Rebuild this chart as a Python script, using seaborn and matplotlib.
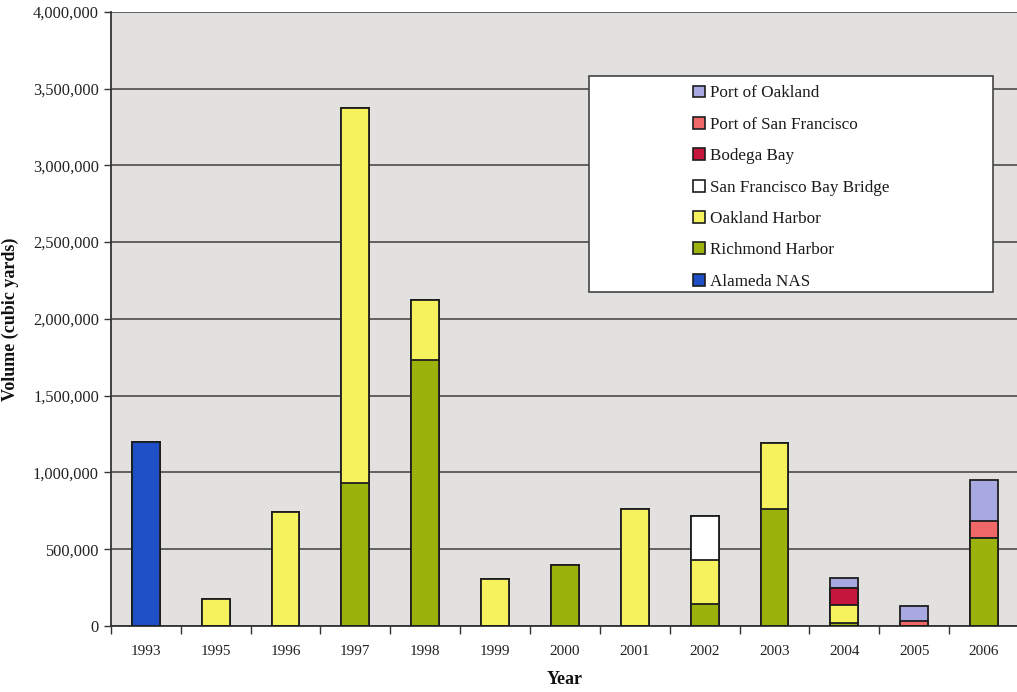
import numpy as np
import pandas as pd
import matplotlib
matplotlib.use("Agg")
import matplotlib.pyplot as plt
from matplotlib.ticker import FuncFormatter, MultipleLocator, FixedLocator
from matplotlib.patches import Patch, Rectangle
import seaborn as sns

# Dredged volume by project and year (cubic yards)
years = ["1993", "1995", "1996", "1997", "1998", "1999", "2000",
         "2001", "2002", "2003", "2004", "2005", "2006"]
alameda_nas = [1200000, 0, 0, 0, 0, 0, 0, 0, 0, 0, 0, 0, 0]
richmond_harbor = [0, 0, 0, 930000, 1730000, 0, 397000, 0, 140000, 760000, 18000, 0, 573000]
oakland_harbor = [0, 175000, 745000, 2445000, 390000, 307000, 0, 762000, 290000, 432000, 119000, 0, 0]
sf_bay_bridge = [0, 0, 0, 0, 0, 0, 0, 0, 287000, 0, 0, 0, 0]
bodega_bay = [0, 0, 0, 0, 0, 0, 0, 0, 0, 0, 111000, 0, 0]
port_of_sf = [0, 0, 0, 0, 0, 0, 0, 0, 0, 0, 0, 33000, 110000]
port_of_oakland = [0, 0, 0, 0, 0, 0, 0, 0, 0, 0, 65000, 100000, 268000]

series_names = ["Alameda NAS", "Richmond Harbor", "Oakland Harbor",
                "San Francisco Bay Bridge", "Bodega Bay",
                "Port of San Francisco", "Port of Oakland"]
series_values = [alameda_nas, richmond_harbor, oakland_harbor, sf_bay_bridge,
                 bodega_bay, port_of_sf, port_of_oakland]
colors = ["#1f4fc6", "#9bb10c", "#f6f25e", "#ffffff", "#c5163e",
          "#ef6767", "#a9a9e2"]

df = pd.DataFrame({name: vals for name, vals in zip(series_names, series_values)},
                  index=years)
cum = df.cumsum(axis=1)

sns.set_theme(style="white")
plt.rcParams["font.family"] = ["Liberation Serif", "DejaVu Serif"]

fig = plt.figure(figsize=(10.17, 6.92), dpi=100)
ax = fig.add_axes([0.109, 0.0954, 0.893, 0.8876])
ax.set_facecolor("#e2e1df")

# Draw cumulative totals from the top series down so each layer shows its own segment
for name, col in reversed(list(zip(series_names, colors))):
    seg = pd.DataFrame({"Year": years, "Total": cum[name].values})
    sns.barplot(data=seg, x="Year", y="Total", order=years, color=col,
                width=0.4, edgecolor="#1e1e1e", linewidth=1.3,
                saturation=1, ax=ax, zorder=3)

ax.set_xlim(-0.5, len(years) - 0.5)
ax.set_ylim(0, 4000000)
ax.yaxis.set_major_locator(MultipleLocator(500000))
ax.yaxis.set_major_formatter(FuncFormatter(lambda v, p: f"{int(v):,}"))
ax.grid(axis="y", color="#4a4a4a", linewidth=1.2, zorder=0)
ax.set_axisbelow(True)

# Category separators as x ticks, labels centered under bars
ax.xaxis.set_major_locator(FixedLocator(np.arange(len(years) + 1) - 0.5))
ax.xaxis.set_major_formatter(FuncFormatter(lambda v, p: ""))
ax.xaxis.set_minor_locator(FixedLocator(np.arange(len(years))))
ax.set_xticklabels(years, minor=True)
ax.tick_params(axis="x", which="major", direction="out", length=6, width=1,
               color="#333333", bottom=True)
ax.tick_params(axis="x", which="minor", length=0, pad=14, labelsize=11,
               labelcolor="#222222")
ax.tick_params(axis="y", direction="out", length=5, width=1, color="#333333",
               left=True, labelsize=11.8, labelcolor="#222222")

for side in ["left", "bottom"]:
    ax.spines[side].set_color("#333333")
    ax.spines[side].set_linewidth(1.3)
for side in ["top", "right"]:
    ax.spines[side].set_visible(False)

ax.set_xlabel("Year", fontsize=13, fontweight="bold", labelpad=9, color="#111111")
ax.set_ylabel("Volume (cubic yards)", fontsize=13, fontweight="bold",
              labelpad=10, color="#111111")

# Legend box drawn as its own panel, entries set in from the left edge
box = Rectangle((0.527, 0.544), 0.444, 0.352, transform=ax.transAxes,
                facecolor="white", edgecolor="#444444", linewidth=1.2,
                zorder=4)
ax.add_patch(box)

handles = [Patch(facecolor=c, edgecolor="#1e1e1e", linewidth=1.2, label=n)
           for n, c in reversed(list(zip(series_names, colors)))]
leg = ax.legend(handles=handles, loc="upper left",
                bbox_to_anchor=(0.641, 0.880),
                frameon=False, fontsize=12.3, handlelength=0.7,
                handleheight=0.7, handletextpad=0.3, labelspacing=0.9,
                borderpad=0, borderaxespad=0)
leg.set_zorder(5)
for t in leg.get_texts():
    t.set_color("#1a1a1a")

fig.savefig("out.png", dpi=100, facecolor="white")
